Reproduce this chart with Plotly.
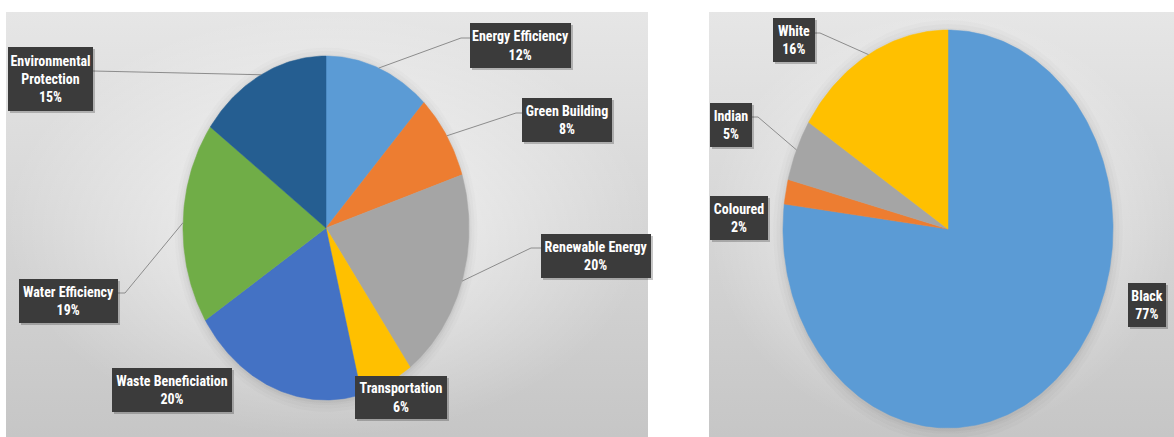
import numpy as np
import plotly.graph_objects as go

# ---------------- data ----------------
left_labels = ["Energy Efficiency", "Green Building", "Renewable Energy", "Transportation",
               "Waste Beneficiation", "Water Efficiency", "Environmental<br>Protection"]
left_values = [12, 8, 20, 6, 20, 19, 15]
left_colors = ["#5B9BD5", "#ED7D31", "#A5A5A5", "#FFC000", "#4472C4", "#70AD47", "#255E91"]

right_labels = ["Black", "Coloured", "Indian", "White"]
right_values = [77, 2, 5, 16]
right_colors = ["#5B9BD5", "#ED7D31", "#A5A5A5", "#FFC000"]

# ---------------- layout constants (pixels) ----------------
W, H = 1174, 437
FONT = "Roboto Condensed, Liberation Sans Narrow, Roboto, sans-serif"

panels = [
    dict(name="L", x0=6, x1=648, y0=12, y1=437, cx=326, cy=228, rx=143, ry=172,
         labels=left_labels, values=left_values, colors=left_colors,
         # label box: centre x, centre y, width, height
         boxes=[(520, 45, 101, 45), (567, 120, 90, 44), (596, 256, 110, 44), (401, 397, 92, 43),
                (172, 390, 120, 44), (68, 301, 99, 44), (50, 79, 85, 64)],
         # leader: (box edge x, elbow x, y) or None
         leaders=[(470, 461, 38), (522, 516, 113), (541, 531, 248), None,
                  None, (118, 125, 293), (93, 93, 71)]),
    dict(name="R", x0=709, x1=1174, y0=12, y1=437, cx=948, cy=229, rx=165, ry=199,
         labels=right_labels, values=right_values, colors=right_colors,
         boxes=[(1147, 305, 38, 44), (739, 218, 58, 44), (731, 125, 42, 44), (794, 40, 42, 44)],
         leaders=[None, None, (752, 758, 117), (815, 820, 33)]),
]

fig = go.Figure()
annotations = []

for i, p in enumerate(panels):
    ax_id = "" if i == 0 else str(i + 1)
    xa, ya = "x" + ax_id, "y" + ax_id
    cx, cy, rx, ry = p["cx"], p["cy"], p["rx"], p["ry"]
    xr = [(p["x0"] - cx) / rx, (p["x1"] - cx) / rx]
    yr = [(cy - p["y1"]) / ry, (cy - p["y0"]) / ry]

    def to_ax(px, py):
        return (px - cx) / rx, (cy - py) / ry

    rect_x = [xr[0], xr[1], xr[1], xr[0], xr[0]]
    rect_y = [yr[0], yr[0], yr[1], yr[1], yr[0]]
    # background panel: vertical gradient + radial highlight
    fig.add_trace(go.Scatter(
        x=rect_x, y=rect_y, mode="lines", fill="toself", line=dict(width=0),
        fillgradient=dict(type="vertical", colorscale=[[0, "#c6c6c6"], [0.5, "#d6d6d6"], [1, "#e6e6e6"]]),
        xaxis=xa, yaxis=ya, hoverinfo="skip", showlegend=False))
    fig.add_trace(go.Scatter(
        x=rect_x, y=rect_y, mode="lines", fill="toself", line=dict(width=0),
        fillgradient=dict(type="radial", colorscale=[[0, "rgba(255,255,255,0.75)"],
                                                      [0.6, "rgba(255,255,255,0.3)"],
                                                      [1, "rgba(255,255,255,0)"]]),
        xaxis=xa, yaxis=ya, hoverinfo="skip", showlegend=False))

    # soft shadow halo around the pie
    tt = np.linspace(0, 2 * np.pi, 300)
    for s, a in [(1.06, 0.015), (1.04, 0.02), (1.02, 0.025), (1.008, 0.03)]:
        fig.add_trace(go.Scatter(
            x=s * np.sin(tt), y=s * np.cos(tt) - 0.01, mode="lines", fill="toself",
            fillcolor=f"rgba(0,0,0,{a})", line=dict(width=0),
            xaxis=xa, yaxis=ya, hoverinfo="skip", showlegend=False))

    total = float(sum(p["values"]))
    cum = 0.0
    mids = []
    for lab, val, col in zip(p["labels"], p["values"], p["colors"]):
        t0 = cum / total * 2 * np.pi
        t1 = (cum + val) / total * 2 * np.pi
        cum += val
        n = max(4, int(400 * val / total))
        t = np.linspace(t0, t1, n)
        xs = np.concatenate([[0], np.sin(t), [0]])
        ys = np.concatenate([[0], np.cos(t), [0]])
        fig.add_trace(go.Scatter(
            x=xs, y=ys, mode="lines", fill="toself", fillcolor=col,
            line=dict(color=col, width=0.5), xaxis=xa, yaxis=ya,
            name=lab.replace("<br>", " "), hoverinfo="name", showlegend=False))
        mids.append((t0 + t1) / 2)

    # leader lines + labels
    for lab, val, mid, box, ld in zip(p["labels"], p["values"], mids, p["boxes"], p["leaders"]):
        if ld is not None:
            ex, ey = np.sin(mid), np.cos(mid)
            a = to_ax(ld[0], ld[2])
            b = to_ax(ld[1], ld[2])
            fig.add_trace(go.Scatter(
                x=[a[0], b[0], ex], y=[a[1], b[1], ey], mode="lines",
                line=dict(color="#8c8c8c", width=1), xaxis=xa, yaxis=ya,
                hoverinfo="skip", showlegend=False))
        bx, by, bw, bh = box
        pct = f"{round(100 * val / total)}%"
        # shadow
        annotations.append(dict(
            x=bx / W, y=1 - by / H, xref="paper", yref="paper", xanchor="center", yanchor="middle",
            text=" ", showarrow=False, width=bw, height=bh, borderpad=0, borderwidth=0,
            bgcolor="rgba(0,0,0,0.22)", xshift=2, yshift=-2))
        annotations.append(dict(
            x=bx / W, y=1 - by / H, xref="paper", yref="paper", xanchor="center", yanchor="middle",
            text=f"<b>{lab}<br>{pct}</b>", showarrow=False, width=bw, height=bh,
            borderpad=0, borderwidth=0, bgcolor="#3b3b3b", align="center", valign="middle",
            font=dict(family=FONT, size=14, color="white")))

    axis_common = dict(visible=False, showgrid=False, zeroline=False, fixedrange=True)
    fig.update_layout(**{
        ("xaxis" + ax_id): dict(domain=[p["x0"] / W, p["x1"] / W], range=xr, anchor=ya, **axis_common),
        ("yaxis" + ax_id): dict(domain=[1 - p["y1"] / H, 1 - p["y0"] / H], range=yr, anchor=xa, **axis_common),
    })

fig.update_layout(
    width=W, height=H, margin=dict(l=0, r=0, t=0, b=0),
    paper_bgcolor="white", plot_bgcolor="rgba(0,0,0,0)",
    annotations=annotations, showlegend=False,
)

fig.write_html("out.html")
